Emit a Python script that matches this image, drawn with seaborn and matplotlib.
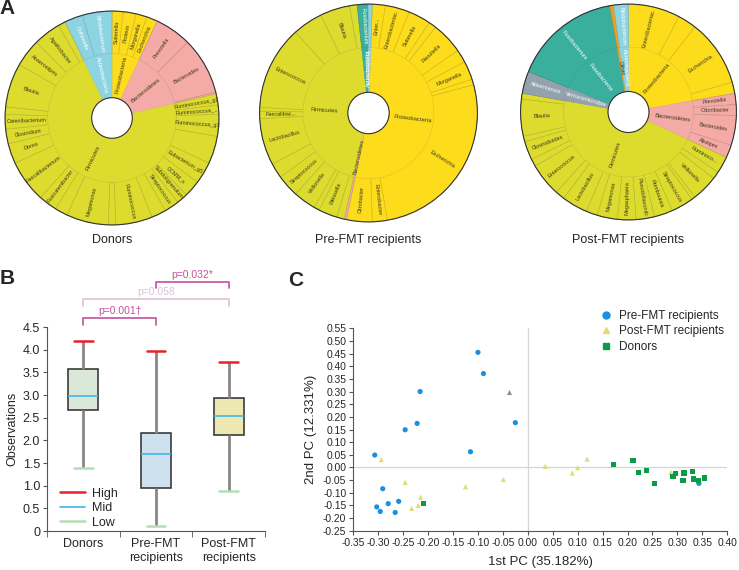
import numpy as np
import pandas as pd
import matplotlib.pyplot as plt
import matplotlib.colors as mcolors
import seaborn as sns
from matplotlib.lines import Line2D
from matplotlib.patches import Circle

sns.set_style('ticks')
plt.rcParams['font.family'] = ['Liberation Sans', 'DejaVu Sans']

# ---------------- Panel A data (degrees, clockwise from 12 o'clock) ----------------
phylum_colors = {
    'Firmicutes': '#DDDC2E',
    'Proteobacteria': '#FDDC1C',
    'Bacteroidetes': '#F4AAA6',
    'Actinobacteria': '#8DD4E2',
    'Fusobacteria': '#3BAF9E',
    'Verrucomicrobia': '#93A2AD',
    'Other': '#F0A020',
}
white_text = ['Actinobacteria', 'Fusobacteria', 'Verrucomicrobia']

donor_phyla = ['Proteobacteria', 'Bacteroidetes', 'Firmicutes', 'Actinobacteria']
donor_phyla_deg = [25, 52, 257, 26]
donor_genus_n = [4, 3, 23, 2]
donor_genus = ['Sutterella', 'Proteus', 'Morganella', 'Escherichia',
               'Prevotella', 'Bacteroides', '',
               'Ruminococcus_g2', 'Ruminococcus_...', 'Ruminococcus_g3', '', 'Eubacterium_g5',
               'CCMM_s', 'Subdoligranulum', 'Streptococcus', '', 'Ruminococcus', '', 'Megamonas',
               '', 'Fusicatenibacter', 'Faecalibacterium', 'Dorea', 'Clostridium', 'Catenibacterium',
               '', 'Blautia', 'Anaerostipes', 'Agathobacter', '',
               'Collinsella', 'Bifidobacterium']
donor_genus_deg = [6, 7, 6, 6,
                   20, 31, 1,
                   6, 5, 12, 15, 12,
                   9, 6, 8, 8, 20, 4, 23,
                   7, 10, 23, 11, 8, 8,
                   4, 24, 15, 15, 4,
                   10, 16]

pre_phyla = ['Proteobacteria', 'Bacteroidetes', 'Firmicutes', 'Fusobacteria', 'Actinobacteria']
pre_phyla_deg = [189.7, 1.3, 161, 5.8, 2.2]
pre_genus_n = [11, 1, 13, 1, 1]
pre_genus = ['Enter...', 'Enterobacteriac.', 'Sutterella', '', 'Raoultella', '', 'Morganella', '',
             'Escherichia', 'Enterobacter', 'Citrobacter',
             '',
             '', 'Weissella', '', 'Veillonella', 'Streptococcus', '', 'Lactobacillus', 'Faecalibac...',
             '', 'Enterococcus', '', 'Blautia', '',
             'Fusobacterium',
             '']
pre_genus_deg = [7, 13, 12, 4, 17, 7, 10, 3, 95, 8, 13.7,
                 1.3,
                 4, 10, 3, 12, 12, 8, 25, 4, 2, 45, 16, 16, 4,
                 5.8,
                 2.2]

post_phyla = ['Proteobacteria', 'Bacteroidetes', 'Firmicutes', 'Verrucomicrobia',
              'Fusobacteria', 'Other', 'Actinobacteria']
post_phyla_deg = [80, 35, 165, 12, 58, 2, 8]
post_genus_n = [4, 4, 18, 1, 1, 1, 1]
post_genus = ['Enterobacteriac.', '', 'Escherichia', '',
              'Prevotella', 'Odoribacter', 'Bacteroides', 'Alistipes',
              'Ruminoco...', '', 'Veillonella', '', 'Streptococcus', 'Romboutsia',
              'Pseudoflavonifr.', 'Megasphaera', 'Megamonas', '', 'Lactobacillus', '',
              'Enterococcus', '', 'Clostridioides', '', 'Blautia', '',
              'Akkermansia', 'Fusobacterium', '', 'Bifidobacterium']
post_genus_deg = [28, 10, 36, 6,
                  6, 6, 16, 7,
                  9, 4, 14, 2, 12, 10, 10, 10, 11, 6, 14, 5, 18, 4, 10, 3, 20, 3,
                  12, 58, 2, 8]

# ---------------- Panel B data ----------------
groups = ['Donors', 'Pre-FMT\nrecipients', 'Post-FMT\nrecipients']
obs_low = [1.38, 0.12, 0.88]
obs_q1 = [2.67, 0.95, 2.11]
obs_mid = [2.98, 1.69, 2.54]
obs_q3 = [3.58, 2.16, 2.93]
obs_high = [4.20, 3.97, 3.73]
box_colors = ['#D6EBD6', '#C8E3F3', '#F7F0A8']
pairs = [(0, 1), (0, 2), (1, 2)]
p_labels = ['p=0.001\u2020', 'p=0.058', 'p=0.032*']

# ---------------- Panel C data ----------------
pre_pc1 = [-0.100, -0.089, -0.216, -0.222, -0.246, -0.025, -0.115, -0.307, -0.291,
           -0.259, -0.280, -0.303, -0.296, -0.266, 0.343]
pre_pc2 = [0.455, 0.371, 0.300, 0.174, 0.149, 0.177, 0.062, 0.049, -0.084,
           -0.134, -0.143, -0.156, -0.174, -0.178, -0.063]
post_pc1 = [-0.294, -0.246, -0.215, -0.220, -0.233, -0.125, -0.049, 0.035, 0.089,
            0.100, 0.119, 0.287]
post_pc2 = [0.031, -0.059, -0.117, -0.150, -0.162, -0.076, -0.048, 0.004, -0.022,
            -0.001, 0.033, -0.019]
donor_pc1 = [-0.210, 0.171, 0.211, 0.222, 0.238, 0.254, 0.291, 0.296, 0.313,
             0.311, 0.331, 0.332, 0.342, 0.355]
donor_pc2 = [-0.142, 0.011, 0.026, -0.019, -0.013, -0.062, -0.035, -0.023, -0.022,
             -0.051, -0.015, -0.046, -0.051, -0.042]
extra_pc1 = [-0.037]
extra_pc2 = [0.300]

W, H = 739, 570
fig = plt.figure(figsize=(W / 100, H / 100), dpi=100)


def darker(c, f=0.82):
    r, g, b = mcolors.to_rgb(c)
    return (r * f, g * f, b * f)


def draw_donut(cx, cy, R, phyla, phyla_deg, genus, genus_deg, genus_n, start, title):
    ax = fig.add_axes([(cx - R) / W, 1 - (cy + R) / H, 2 * R / W, 2 * R / H])
    genus_phyla = np.repeat(phyla, genus_n)
    gcols = [phylum_colors[p] for p in genus_phyla]
    pcols = [phylum_colors[p] for p in phyla]
    wedges, _ = ax.pie(genus_deg, radius=1, startangle=90 - start, counterclock=False,
                       colors=gcols, wedgeprops=dict(width=0.4, linewidth=0.4))
    for w, c in zip(wedges, gcols):
        w.set_edgecolor(darker(c))
    wedges, _ = ax.pie(phyla_deg, radius=0.6, startangle=90 - start, counterclock=False,
                       colors=pcols, wedgeprops=dict(width=0.41, linewidth=0.3))
    for w, c in zip(wedges, pcols):
        w.set_edgecolor(darker(c, 0.9))
    ax.add_patch(Circle((0, 0), 1, fill=False, ec='#333333', lw=0.8))
    ax.add_patch(Circle((0, 0), 0.19, fill=False, ec='#333333', lw=0.8))

    def put_labels(names, degs, owners, r, size):
        edges = start + np.concatenate([[0], np.cumsum(degs)])
        for name, a0, a1, owner in zip(names, edges[:-1], edges[1:], owners):
            if not name:
                continue
            mid = (a0 + a1) / 2
            phi = np.deg2rad(90 - mid)
            rot = (90 - mid + 180) % 360 - 180
            if rot > 90 or rot < -90:
                rot += 180
            col = 'white' if owner in white_text else '#3a3a20'
            ax.text(r * np.cos(phi), r * np.sin(phi), name, rotation=rot,
                    rotation_mode='anchor', ha='center', va='center',
                    fontsize=size, color=col)

    put_labels(genus, genus_deg, genus_phyla, 0.8, 4)
    put_labels(phyla, phyla_deg, phyla, 0.41, 4.2)
    ax.set_xlim(-1.01, 1.01)
    ax.set_ylim(-1.01, 1.01)
    ax.set_aspect('equal')
    ax.axis('off')
    fig.text(cx / W, 1 - 240 / H, title, ha='center', va='center', fontsize=9)


draw_donut(112, 118, 108, donor_phyla, donor_phyla_deg, donor_genus, donor_genus_deg,
           donor_genus_n, 0, 'Donors')
draw_donut(368.5, 113, 110, pre_phyla, pre_phyla_deg, pre_genus, pre_genus_deg,
           pre_genus_n, 2, 'Pre-FMT recipients')
draw_donut(628.5, 112, 109, post_phyla, post_phyla_deg, post_genus, post_genus_deg,
           post_genus_n, 0, 'Post-FMT recipients')

# ---------------- Panel B ----------------
axb = fig.add_axes([47 / W, 1 - 531 / H, 218 / W, 204 / H])
df_box = pd.DataFrame({
    'group': np.repeat(groups, 5),
    'value': np.column_stack([obs_low, obs_q1, obs_mid, obs_q3, obs_high]).ravel(),
})
sns.boxplot(data=df_box, x='group', y='value', hue='group', palette=box_colors,
            legend=False, width=0.41, whis=(0, 100), showfliers=False,
            linewidth=1.2, linecolor='#3c3c3c',
            medianprops=dict(color='#3DB9EA', linewidth=1.2),
            whiskerprops=dict(color='#8C8484', linewidth=2),
            ax=axb)
for i, cont in enumerate(axb.containers):
    lo, hi = cont.caps[0], cont.caps[1]
    for line, col in [(lo, '#B5DDB5'), (hi, '#E8202A')]:
        line.set_xdata([i - 0.13, i + 0.13])
        line.set_color(col)
        line.set_linewidth(1.8)

axb.set_xlim(-0.5, 2.5)
axb.set_ylim(0, 4.5)
yt = np.arange(0, 4.51, 0.5)
axb.set_yticks(yt)
axb.set_yticklabels(['0' if v == 0 else f'{v:.1f}' for v in yt], fontsize=9)
axb.set_xticks([0, 1, 2])
axb.set_xticklabels(groups, fontsize=9)
axb.set_xticks([-0.5, 0.5, 1.5, 2.5], minor=True)
axb.tick_params(axis='x', which='major', length=0, pad=5)
axb.tick_params(axis='x', which='minor', length=4, direction='out', color='#555555')
axb.tick_params(axis='y', length=3, direction='out', color='#555555', pad=2)
axb.set_xlabel('')
axb.set_ylabel('Observations', fontsize=9, labelpad=3)
sns.despine(ax=axb)
for s in ['left', 'bottom']:
    axb.spines[s].set_color('#555555')

bracket_low = [4.54, 4.96, 5.36]
bracket_top = [4.70, 5.12, 5.49]
p_colors = ['#C4509C', '#DCC2D6', '#C4509C']
for (a, b), lab, y0, y1, c in zip(pairs, p_labels, bracket_low, bracket_top, p_colors):
    axb.plot([a, a, b, b], [y0, y1, y1, y0], color=c, lw=1.2, clip_on=False)
    axb.text((a + b) / 2, y1 + 0.05, lab, ha='center', va='bottom', fontsize=7.5,
             color=c, clip_on=False)

leg_handles = [Line2D([], [], color='#E8202A', lw=1.8),
               Line2D([], [], color='#3DB9EA', lw=1.2),
               Line2D([], [], color='#B5DDB5', lw=1.8)]
axb.legend(leg_handles, ['High', 'Mid', 'Low'], loc='lower left', bbox_to_anchor=(0.025, -0.025),
           frameon=False, fontsize=9, handlelength=2.0, handletextpad=0.6,
           labelspacing=0.2, borderaxespad=0.2)

# ---------------- Panel C ----------------
axc = fig.add_axes([353.3 / W, 1 - 530.7 / H, 374 / W, 202.4 / H])
df_pc = pd.DataFrame({
    'pc1': pre_pc1 + post_pc1 + donor_pc1,
    'pc2': pre_pc2 + post_pc2 + donor_pc2,
    'group': ['Pre-FMT recipients'] * len(pre_pc1) + ['Post-FMT recipients'] * len(post_pc1)
             + ['Donors'] * len(donor_pc1),
})
pc_palette = {'Pre-FMT recipients': '#1B8FE0', 'Post-FMT recipients': '#E3DA78',
              'Donors': '#0A9A48'}
pc_markers = {'Pre-FMT recipients': 'o', 'Post-FMT recipients': '^', 'Donors': 's'}
axc.axvline(0, color='#D4D4D4', lw=0.9, zorder=0)
axc.axhline(0, color='#D4D4D4', lw=0.9, zorder=0)
sns.scatterplot(data=df_pc, x='pc1', y='pc2', hue='group', style='group',
                palette=pc_palette, markers=pc_markers, s=14, linewidth=0,
                legend=False, ax=axc)
sns.scatterplot(x=extra_pc1, y=extra_pc2, color='#909090', marker='^', s=14,
                linewidth=0, ax=axc)
axc.set_xlim(-0.35, 0.40)
axc.set_ylim(-0.25, 0.55)
xt = np.round(np.arange(-0.35, 0.401, 0.05), 2)
yt = np.round(np.arange(-0.25, 0.551, 0.05), 2)
axc.set_xticks(xt)
axc.set_xticklabels([f'{v:.2f}'.replace('-0.00', '0.00') for v in xt], fontsize=7.4)
axc.set_yticks(yt)
axc.set_yticklabels([f'{v:.2f}'.replace('-0.00', '0.00') for v in yt], fontsize=7.4)
axc.tick_params(length=3, direction='out', color='#555555', pad=2)
axc.set_xlabel('1st PC (35.182%)', fontsize=9.5, labelpad=6)
axc.set_ylabel('2nd PC (12.331%)', fontsize=9.5, labelpad=4)
sns.despine(ax=axc)
for s in ['left', 'bottom']:
    axc.spines[s].set_color('#555555')

pc_handles = [Line2D([], [], marker=pc_markers[g], color=pc_palette[g], ls='', markersize=5)
              for g in pc_palette]
axc.legend(pc_handles, list(pc_palette), loc='upper left', bbox_to_anchor=(0.64, 1.115),
           frameon=False, fontsize=8.5, handletextpad=0.3, labelspacing=0.3,
           borderaxespad=0, handlelength=1.5)

# panel letters
fig.text(7 / W, 1 - 9 / H, 'A', fontsize=15, fontweight='bold', ha='center', va='center')
fig.text(7 / W, 1 - 279 / H, 'B', fontsize=15, fontweight='bold', ha='center', va='center')
fig.text(296 / W, 1 - 280 / H, 'C', fontsize=15, fontweight='bold', ha='center', va='center')

fig.savefig('out.png', dpi=100)
